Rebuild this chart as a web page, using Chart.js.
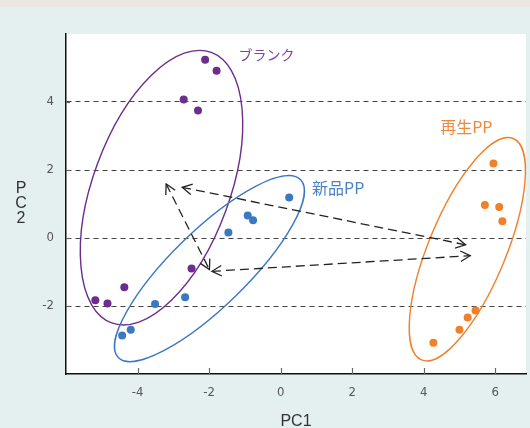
<!DOCTYPE html>
<html><head><meta charset="utf-8">
<script src="https://cdn.jsdelivr.net/npm/chart.js@4/dist/chart.umd.min.js"></script>
<style>
html,body{margin:0;padding:0;background:#e4f0ef;}
#wrap{position:relative;width:530px;height:428px;background:#e4f0ef;}
#strip{position:absolute;left:0;top:0;width:530px;height:7px;background:#ebe6e1;}
canvas{position:absolute;left:0;top:0;}
</style></head>
<body><div id="wrap"><div id="strip"></div><canvas id="c" width="530" height="428"></canvas></div>
<script>
// ---- data ----
const xTickValues = [-4, -2, 0, 2, 4, 6];
const yTickValues = [-2, 0, 2, 4];
const groupNames = ['ブランク', '新品PP', '再生PP'];
const blankX = [-2.11, -1.79, -2.71, -2.31, -2.49, -4.37, -5.18, -4.84];
const blankY = [5.24, 4.92, 4.07, 3.75, -0.90, -1.45, -1.83, -1.93];
const newX = [0.24, -0.92, -0.77, -1.46, -2.67, -3.51, -4.19, -4.43];
const newY = [1.19, 0.66, 0.52, 0.16, -1.74, -1.94, -2.70, -2.87];
const recX = [5.95, 5.71, 6.11, 6.20, 5.45, 5.23, 5.00, 4.27];
const recY = [2.19, 0.97, 0.91, 0.49, -2.13, -2.34, -2.70, -3.08];
// confidence ellipses (centre, semi-axes in PC1 units, tilt in degrees)
const ellipseCX = [-3.33, -1.99, 5.22];
const ellipseCY = [1.48, -0.90, -0.33];
const ellipseA = [4.03, 3.56, 3.35];
const ellipseB = [1.91, 1.06, 1.08];
const ellipseTilt = [69.8, 44.3, 67.5];
// double-headed arrows
const arrowFromX = [-3.20, -2.75, -1.92];
const arrowFromY = [1.59, 1.49, -0.98];
const arrowToX = [-1.99, 5.17, 5.30];
const arrowToY = [-0.93, -0.20, -0.52];
// group label anchors
const labelX = [-1.18, 0.88, 4.46];
const labelY = [5.39, 1.46, 3.26];

const colors = ['#6c2d8c', '#3a78c2', '#f0812a'];
const labelColors = ['#7f45a0', '#4a82c4', '#f0883c'];
const labelSizes = [14, 16, 16];

const zip = (xs, ys) => xs.map((x, i) => ({x, y: ys[i]}));

const overlay = {
  id: 'overlay',
  beforeDraw(chart) {
    const {ctx, chartArea: ca} = chart;
    ctx.save();
    ctx.fillStyle = '#ffffff';
    ctx.fillRect(ca.left, ca.top, ca.right - ca.left, ca.bottom - ca.top);
    ctx.restore();
  },
  beforeDatasetsDraw(chart) {
    const {ctx, scales: {x, y}} = chart;
    const xs = x.getPixelForValue(1) - x.getPixelForValue(0);
    ctx.save();
    for (let i = 0; i < ellipseCX.length; i++) {
      ctx.beginPath();
      ctx.ellipse(x.getPixelForValue(ellipseCX[i]), y.getPixelForValue(ellipseCY[i]),
        ellipseA[i] * xs, ellipseB[i] * xs, -ellipseTilt[i] * Math.PI / 180, 0, Math.PI * 2);
      ctx.strokeStyle = colors[i];
      ctx.lineWidth = 1.4;
      ctx.stroke();
    }
    ctx.restore();
  },
  afterDatasetsDraw(chart) {
    const {ctx, scales: {x, y}, chartArea: ca} = chart;
    ctx.save();
    ctx.strokeStyle = '#222';
    ctx.lineWidth = 1.3;
    for (let i = 0; i < arrowFromX.length; i++) {
      const x1 = x.getPixelForValue(arrowFromX[i]), y1 = y.getPixelForValue(arrowFromY[i]);
      const x2 = x.getPixelForValue(arrowToX[i]), y2 = y.getPixelForValue(arrowToY[i]);
      ctx.setLineDash([9, 5]);
      ctx.beginPath(); ctx.moveTo(x1, y1); ctx.lineTo(x2, y2); ctx.stroke();
      ctx.setLineDash([]);
      const ang = Math.atan2(y2 - y1, x2 - x1);
      const L = 11, w = 0.5;
      [[x2, y2, ang], [x1, y1, ang + Math.PI]].forEach(([px, py, a]) => {
        ctx.beginPath();
        ctx.moveTo(px - L * Math.cos(a - w), py - L * Math.sin(a - w));
        ctx.lineTo(px, py);
        ctx.lineTo(px - L * Math.cos(a + w), py - L * Math.sin(a + w));
        ctx.stroke();
      });
    }
    ctx.strokeStyle = '#666';
    ctx.lineWidth = 1.2;
    xTickValues.forEach(v => {
      const px = Math.round(x.getPixelForValue(v)) + 0.5;
      ctx.beginPath(); ctx.moveTo(px, ca.bottom); ctx.lineTo(px, ca.bottom - 6); ctx.stroke();
    });
    yTickValues.forEach(v => {
      const py = Math.round(y.getPixelForValue(v)) + 0.5;
      ctx.beginPath(); ctx.moveTo(ca.left, py); ctx.lineTo(ca.left + 4, py); ctx.stroke();
    });
    ctx.textBaseline = 'middle';
    ctx.textAlign = 'left';
    groupNames.forEach((t, i) => {
      ctx.font = labelSizes[i] + "px 'Noto Sans CJK JP', sans-serif";
      ctx.fillStyle = labelColors[i];
      ctx.fillText(t, x.getPixelForValue(labelX[i]), y.getPixelForValue(labelY[i]));
    });
    ctx.font = "16px 'Liberation Sans', Arial, sans-serif";
    ctx.fillStyle = '#333';
    ctx.textAlign = 'center';
    ['P', 'C', '2'].forEach((ch, k) => ctx.fillText(ch, 21, 189 + k * 15));
    ctx.restore();
  }
};

new Chart(document.getElementById('c'), {
  type: 'scatter',
  data: {
    datasets: [
      {label: groupNames[0], data: zip(blankX, blankY), backgroundColor: colors[0]},
      {label: groupNames[1], data: zip(newX, newY), backgroundColor: colors[1]},
      {label: groupNames[2], data: zip(recX, recY), backgroundColor: colors[2]}
    ]
  },
  options: {
    responsive: false,
    devicePixelRatio: 1,
    animation: false,
    layout: {padding: {left: 0, right: 2, top: 34, bottom: 0}},
    elements: {point: {radius: 4, borderWidth: 0, hoverRadius: 4}},
    plugins: {legend: {display: false}, tooltip: {enabled: false}},
    scales: {
      x: {
        type: 'linear', min: -6, max: 6.86,
        afterBuildTicks: s => { s.ticks = xTickValues.map(v => ({value: v})); },
        afterFit: s => { s.height = 54; },
        grid: {display: true, drawOnChartArea: false, drawTicks: false, color: 'rgba(0,0,0,0)'},
        border: {display: true, color: '#111', width: 1.5},
        ticks: {padding: 11, color: '#555', font: {family: "'Liberation Sans Narrow', 'DejaVu Sans Condensed', sans-serif", size: 13}},
        title: {display: true, text: 'PC1', color: '#333', padding: {top: 0, bottom: 0},
          font: {family: "'Liberation Sans', Arial, sans-serif", size: 16, lineHeight: 0.8}}
      },
      y: {
        type: 'linear', min: -4, max: 6,
        afterBuildTicks: s => { s.ticks = yTickValues.map(v => ({value: v})); },
        afterFit: s => { s.width = 66; },
        grid: {display: true, drawOnChartArea: true, drawTicks: false, color: '#444', lineWidth: 1},
        border: {display: true, color: '#111', width: 1.5, dash: [5, 4]},
        ticks: {padding: 12, color: '#555', font: {family: "'Liberation Sans Narrow', 'DejaVu Sans Condensed', sans-serif", size: 13}}
      }
    }
  },
  plugins: [overlay]
});
</script>
</body></html>
